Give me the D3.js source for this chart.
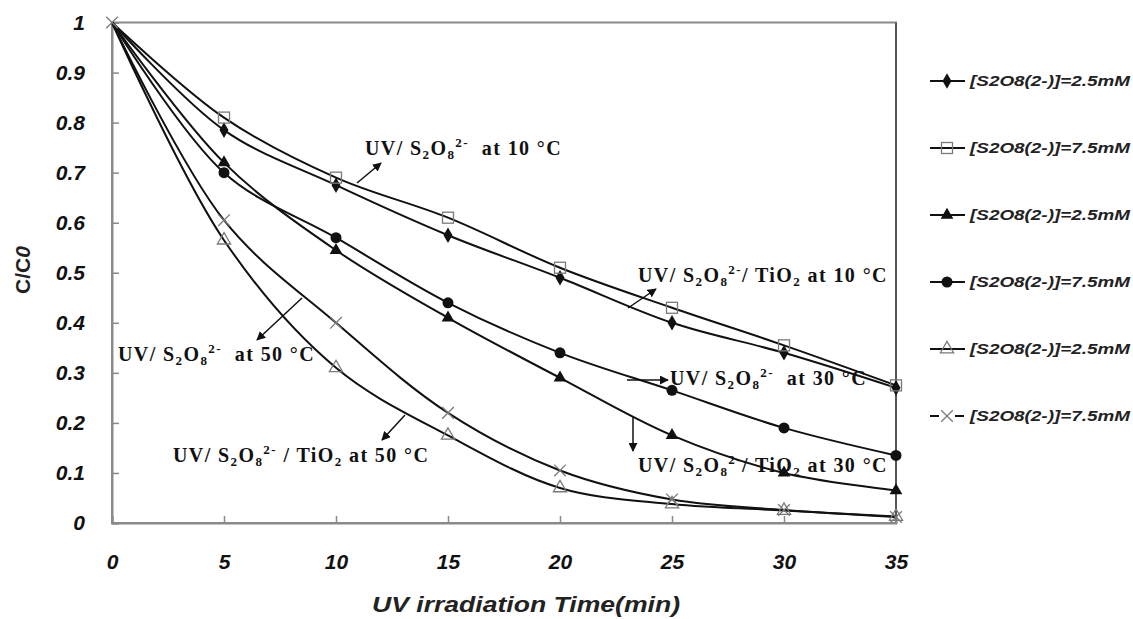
<!DOCTYPE html>
<html><head><meta charset="utf-8">
<script src="https://cdn.jsdelivr.net/npm/d3@7"></script>
<style>body{margin:0;background:#fff}</style>
</head><body>
<script>
const times = [0, 5, 10, 15, 20, 25, 30, 35];
const xTicks = [0, 5, 10, 15, 20, 25, 30, 35];
const yTicks = [0, 0.1, 0.2, 0.3, 0.4, 0.5, 0.6, 0.7, 0.8, 0.9, 1];
const yTickLabels = ["0","0.1","0.2","0.3","0.4","0.5","0.6","0.7","0.8","0.9","1"];
const legendLabels = ["[S2O8(2-)]=2.5mM","[S2O8(2-)]=7.5mM","[S2O8(2-)]=2.5mM","[S2O8(2-)]=7.5mM","[S2O8(2-)]=2.5mM","[S2O8(2-)]=7.5mM"];
const markers = ["diamond","squareOpen","triangle","circle","triangleOpen","cross"];
const s1 = [1.0, 0.785, 0.675, 0.575, 0.49, 0.40, 0.34, 0.27];
const s2 = [1.0, 0.81, 0.69, 0.61, 0.51, 0.43, 0.355, 0.275];
const s3 = [1.0, 0.72, 0.545, 0.41, 0.29, 0.175, 0.10, 0.065];
const s4 = [1.0, 0.70, 0.57, 0.44, 0.34, 0.265, 0.19, 0.135];
const s5 = [1.0, 0.565, 0.31, 0.175, 0.07, 0.038, 0.025, 0.013];
const s6 = [1.0, 0.605, 0.40, 0.22, 0.105, 0.047, 0.026, 0.012];
const seriesValues = [s1, s2, s3, s4, s5, s6];
const xTitle = "UV irradiation Time(min)";

const W = 1133, H = 619;
const svg = d3.select("body").append("svg").attr("width", W).attr("height", H);
const x = d3.scaleLinear().domain([0, 35]).range([112, 896]);
const y = d3.scaleLinear().domain([0, 1]).range([523, 22.5]);

// frame
svg.append("rect").attr("x", 112).attr("y", 22.5).attr("width", 784).attr("height", 500.5)
  .attr("fill", "none").attr("stroke", "#8a8a8a").attr("stroke-width", 2);
svg.append("line").attr("x1", 896).attr("x2", 896).attr("y1", 22.5).attr("y2", 523)
  .attr("stroke", "#555").attr("stroke-width", 2);

// axes
const yAxis = d3.axisLeft(y).tickValues(yTicks).tickSize(-7).tickPadding(27)
  .tickFormat((d, i) => yTickLabels[i]);
const gy = svg.append("g").attr("transform", "translate(112,0)").call(yAxis);
const xAxis = d3.axisBottom(x).tickValues(xTicks).tickSize(-7).tickPadding(31);
const gx = svg.append("g").attr("transform", "translate(0,523)").call(xAxis);
[gx, gy].forEach(g => {
  g.select(".domain").attr("stroke", "#8a8a8a").attr("stroke-width", 2);
  g.selectAll(".tick line").attr("stroke", "#8a8a8a").attr("stroke-width", 1.5);
  g.selectAll(".tick text").attr("font-family", "Liberation Sans, Arial, sans-serif")
    .attr("font-size", 21).attr("font-weight", "bold").attr("font-style", "italic").attr("fill", "#111");
});

// titles
svg.append("text").attr("x", 372).attr("y", 612)
  .attr("font-family", "Liberation Sans, Arial, sans-serif").attr("font-size", 22)
  .attr("font-weight", "bold").attr("font-style", "italic").attr("fill", "#222")
  .attr("textLength", 308).attr("lengthAdjust", "spacingAndGlyphs").text(xTitle);
const yt = svg.append("text").attr("transform", "translate(30,270) rotate(-90)").attr("text-anchor", "middle")
  .attr("font-family", "Liberation Sans, Arial, sans-serif").attr("font-size", 21)
  .attr("font-weight", "bold").attr("fill", "#222");
yt.append("tspan").text("C/C");
yt.append("tspan").attr("font-style", "italic").text("0");

// lines
const line = d3.line().x((d, i) => x(times[i])).y(d => y(d)).curve(d3.curveCatmullRom.alpha(0.5));
seriesValues.forEach(v => {
  svg.append("path").attr("d", line(v)).attr("fill", "none").attr("stroke", "#111").attr("stroke-width", 2);
});

function drawMarker(g, type, cx, cy) {
  const grey = "#7a7a7a";
  if (type === "diamond") {
    g.append("path").attr("d", d3.symbol(d3.symbolDiamond, 70)()).attr("transform", `translate(${cx},${cy})`).attr("fill", "#111");
  } else if (type === "squareOpen") {
    g.append("rect").attr("x", cx - 5.5).attr("y", cy - 5.5).attr("width", 11).attr("height", 11)
      .attr("fill", "none").attr("stroke", grey).attr("stroke-width", 1.3);
  } else if (type === "triangle") {
    g.append("path").attr("d", d3.symbol(d3.symbolTriangle, 70)()).attr("transform", `translate(${cx},${cy})`).attr("fill", "#111");
  } else if (type === "circle") {
    g.append("circle").attr("cx", cx).attr("cy", cy).attr("r", 5.5).attr("fill", "#111");
  } else if (type === "triangleOpen") {
    g.append("path").attr("d", d3.symbol(d3.symbolTriangle, 75)()).attr("transform", `translate(${cx},${cy})`)
      .attr("fill", "none").attr("stroke", grey).attr("stroke-width", 1.3);
  } else if (type === "cross") {
    g.append("path").attr("d", d3.symbol(d3.symbolX, 90)()).attr("transform", `translate(${cx},${cy})`)
      .attr("fill", "none").attr("stroke", grey).attr("stroke-width", 1.3);
  }
}

seriesValues.forEach((v, si) => {
  const g = svg.append("g");
  v.forEach((d, i) => { if (i > 0 || si === 5) drawMarker(g, markers[si], x(times[i]), y(d)); });
});

// legend
const legY0 = 81, legStep = 67;
legendLabels.forEach((lab, i) => {
  const ly = legY0 + i * legStep;
  const g = svg.append("g");
  if (markers[i] === "cross") {
    g.append("line").attr("x1", 930).attr("x2", 939).attr("y1", ly).attr("y2", ly).attr("stroke", "#111").attr("stroke-width", 2);
    g.append("line").attr("x1", 955).attr("x2", 964).attr("y1", ly).attr("y2", ly).attr("stroke", "#111").attr("stroke-width", 2);
  } else {
    g.append("line").attr("x1", 930).attr("x2", 965).attr("y1", ly).attr("y2", ly).attr("stroke", "#111").attr("stroke-width", 2);
  }
  drawMarker(g, markers[i], 947, ly);
  g.append("text").attr("x", 970).attr("y", ly + 5).attr("font-family", "Liberation Sans, Arial, sans-serif")
    .attr("font-size", 14).attr("font-weight", "bold").attr("font-style", "italic").attr("fill", "#222")
    .attr("textLength", 160).attr("lengthAdjust", "spacingAndGlyphs").text(lab);
});

// annotations
function ann(xp, yp, parts) {
  const t = svg.append("text").attr("x", xp).attr("y", yp).attr("font-family", "Liberation Serif, Times New Roman, serif")
    .attr("font-size", 20).attr("font-weight", "bold").attr("fill", "#111").attr("letter-spacing", 1.4)
    .attr("xml:space", "preserve");
  parts.forEach(p => {
    const ts = t.append("tspan").text(p[0]);
    if (p[1] === "sub") ts.attr("font-size", 13).attr("dy", 4);
    if (p[1] === "sup") ts.attr("font-size", 13).attr("dy", -12);
    if (p[1] === "back") ts.attr("dy", 8);
    if (p[1] === "backsub") ts.attr("dy", -4);
  });
  return t;
}
const S2O8 = [["UV/ S"], ["2", "sub"], ["O", "backsub"], ["8", "sub"], ["2-", "sup"]];
ann(365, 155, [...S2O8, ["  at 10 °C", "back"]]);
ann(638, 282, [...S2O8, ["/ TiO", "back"], ["2", "sub"], [" at 10 °C", "backsub"]]);
ann(118, 361, [...S2O8, ["  at 50 °C", "back"]]);
ann(173, 462, [...S2O8, [" / TiO", "back"], ["2", "sub"], [" at 50 °C", "backsub"]]);
ann(670, 385, [...S2O8, ["  at 30 °C", "back"]]);
ann(638, 472, [...S2O8, ["/ TiO", "back"], ["2", "sub"], [" at 30 °C", "backsub"]]);

// arrows
const defs = svg.append("defs");
defs.append("marker").attr("id", "ah").attr("viewBox", "0 0 10 10").attr("refX", 9).attr("refY", 5)
  .attr("markerWidth", 9).attr("markerHeight", 9).attr("markerUnits", "userSpaceOnUse").attr("orient", "auto")
  .append("path").attr("d", "M0,0 L10,5 L0,10 z").attr("fill", "#111");
const arrows = [[357,183,381,163],[628,308,656,289],[302,298,257,340],[405,415,382,440],[627,380,668,380],[633,417,633,451]];
arrows.forEach(a => {
  svg.append("line").attr("x1", a[0]).attr("y1", a[1]).attr("x2", a[2]).attr("y2", a[3])
    .attr("stroke", "#111").attr("stroke-width", 1.5).attr("marker-end", "url(#ah)");
});
</script>
</body></html>
